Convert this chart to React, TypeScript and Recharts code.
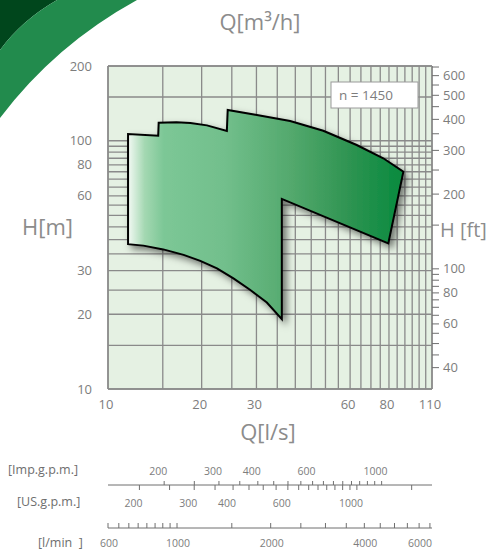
import React from "react";
import { ComposedChart, Scatter, XAxis, YAxis, CartesianGrid } from "recharts";

// outline of the operating field, traced clockwise from the lower left corner
const outlineQ = [11.6, 11.6, 14.5, 14.55, 16.6, 18.4, 20.8, 24.1, 24.25, 30.1, 38.5, 49.2, 63.0, 76.7, 89.0, 79.6, 36.2, 36.2, 32.4, 28.6, 25.3, 22.4, 19.8, 17.5, 15.05, 13.0]; // l/s
const outlineH = [38.3, 106.4, 104.8, 118.2, 118.7, 117.9, 115.3, 109.4, 133.0, 127.0, 120.1, 109.7, 96.1, 85.0, 75.0, 38.6, 58.3, 19.1, 22.3, 25.1, 27.9, 30.6, 32.8, 34.7, 36.5, 37.8]; // m

const qTicks = [10, 15, 20, 25, 30, 35, 40, 45, 50, 55, 60, 65, 70, 75, 80, 85, 90, 95, 100, 105, 110];
const qLabels = [10, 20, 30, 60, 80, 110];
const hTicks = [10, 15, 20, 25, 30, 35, 40, 45, 50, 55, 60, 65, 70, 75, 80, 85, 90, 95, 100, 150, 200];
const hLabels = [10, 20, 30, 60, 80, 100, 200];
const m3hTicks = [40, 45, 50, 55, 60, 65, 70, 75, 80, 85, 90, 95, 100, 150, 200, 250, 300, 350];
const m3hLabels = [40, 60, 80, 200, 300];
const ftTicks = [40, 45, 50, 55, 60, 65, 70, 75, 80, 85, 90, 95, 100, 150, 200, 250, 300, 350, 400, 450, 500, 550, 600, 650];
const ftLabels = [40, 60, 80, 100, 200, 300, 400, 500, 600];
const impTicks = [200, 250, 300, 350, 400, 450, 500, 550, 600, 650, 700, 750, 800, 850, 900, 950, 1000];
const impLabels = [200, 300, 400, 600, 1000];
const usTicks = [200, 250, 300, 350, 400, 450, 500, 550, 600, 650, 700, 750, 800, 850, 900, 950, 1000, 1500];
const usLabels = [200, 300, 400, 600, 1000];
const lminTicks = [600, 650, 700, 750, 800, 850, 900, 950, 1000, 1500, 2000, 2500, 3000, 3500, 4000, 4500, 5000, 5500, 6000, 6500];
const lminLabels = [600, 1000, 2000, 4000, 6000];

const qDomain = [10, 110]; // l/s
const hDomain = [10, 200]; // m
const M3H = 3.6;
const FT = 3.2808;
const IMP = 13.1982;
const USG = 15.8503;
const LMIN = 60;

// same field in the other flow units, so every flow scale has a series on it
const outline = outlineQ.map((q, i) => ({
  q,
  imp: q * IMP,
  us: q * USG,
  lmin: q * LMIN,
  h: outlineH[i],
}));

const FONT = "'Open Sans', 'DejaVu Sans', sans-serif";
const TXT = "#7d7d7d";
const GRID = "#8a8a8a";
const AXIS = "#6f6f6f";

const renderNothing = () => <g />;

const renderField = (props: any) => {
  const pts = (props.points || []) as { x: number; y: number }[];
  if (!pts.length) return <g />;
  const d = pts.map((p, i) => `${i ? "L" : "M"}${p.x},${p.y}`).join(" ") + " Z";
  return (
    <g>
      <defs>
        <linearGradient id="fieldFill" x1="0" y1="0" x2="1" y2="0">
          <stop offset="0" stopColor="#f3f9f4" />
          <stop offset="0.06" stopColor="#a4d8b2" />
          <stop offset="0.13" stopColor="#7cc796" />
          <stop offset="0.35" stopColor="#72bf8c" />
          <stop offset="0.6" stopColor="#52a86c" />
          <stop offset="0.8" stopColor="#2f9452" />
          <stop offset="1" stopColor="#078a3e" />
        </linearGradient>
        <filter id="fieldShadow" x="-10%" y="-10%" width="130%" height="130%">
          <feDropShadow dx="4" dy="4" stdDeviation="3.5" floodColor="#000" floodOpacity="0.5" />
        </filter>
      </defs>
      <path d={d} fill="url(#fieldFill)" stroke="#000" strokeWidth={2} filter="url(#fieldShadow)" />
    </g>
  );
};

const topTick = (p: any) =>
  m3hLabels.includes(p.payload.value) ? (
    <text x={p.x - 3} y={p.y - 3} textAnchor="middle" fontSize={13} fill={TXT} fontFamily={FONT}>
      {p.payload.value}
    </text>
  ) : (
    <g />
  );

const bottomTick = (p: any) =>
  qLabels.includes(p.payload.value) ? (
    <text x={p.x - 2} y={p.y + 20} textAnchor="middle" fontSize={13} fill={TXT} fontFamily={FONT}>
      {p.payload.value}
    </text>
  ) : (
    <g />
  );

const leftTick = (p: any) =>
  hLabels.includes(p.payload.value) ? (
    <text x={p.x - 16} y={p.y + 4.5} textAnchor="end" fontSize={13} fill={TXT} fontFamily={FONT}>
      {p.payload.value}
    </text>
  ) : (
    <g />
  );

const rightTick = (p: any) =>
  ftLabels.includes(p.payload.value) ? (
    <text x={p.x} y={p.y + 4.5} textAnchor="start" fontSize={13} fill={TXT} fontFamily={FONT}>
      {p.payload.value}
    </text>
  ) : (
    <g />
  );

const impTick = (p: any) => (
  <g>
    <line x1={p.x} x2={p.x} y1={p.y} y2={p.y - 4} stroke={AXIS} />
    {impLabels.includes(p.payload.value) ? (
      <text x={p.x - 6} y={p.y - 10} textAnchor="middle" fontSize={10.5} fill={TXT} fontFamily={FONT}>
        {p.payload.value}
      </text>
    ) : null}
  </g>
);

const usTick = (p: any) => (
  <g>
    <line x1={p.x} x2={p.x} y1={p.y - 1} y2={p.y + 4} stroke={AXIS} />
    {usLabels.includes(p.payload.value) ? (
      <text x={p.x - 6} y={p.y + 21} textAnchor="middle" fontSize={10.5} fill={TXT} fontFamily={FONT}>
        {p.payload.value}
      </text>
    ) : null}
  </g>
);

const lminTick = (p: any) => (
  <g>
    <line x1={p.x} x2={p.x} y1={p.y} y2={p.y - 5} stroke={AXIS} />
    {lminLabels.includes(p.payload.value) ? (
      <text x={p.x + 1} y={p.y + 19} textAnchor="middle" fontSize={10.5} fill={TXT} fontFamily={FONT}>
        {p.payload.value}
      </text>
    ) : null}
  </g>
);

const conv = (k: number) => [qDomain[0] * k, qDomain[1] * k];

export default function App() {
  return (
    <div style={{ position: "absolute", left: 0, top: 0, width: 491, height: 556, background: "#fff", fontFamily: FONT }}>
      <svg width={491} height={556} style={{ position: "absolute", left: 0, top: 0 }}>
        <path d="M0,0 L57,0 Q22,20 0,50 Z" fill="#00461c" />
        <path d="M57,0 L137,0 Q55,45 0,118 L0,50 Q22,20 57,0 Z" fill="#228b4d" />
      </svg>
      <div style={{ position: "absolute", left: 0, top: 0 }}>
        <ComposedChart width={491} height={556} margin={{ top: 0, right: 0, bottom: 0, left: 0 }}>
          <CartesianGrid xAxisId="a_ls" yAxisId="m" fill="#e5f1e3" fillOpacity={1} stroke={GRID} strokeWidth={1.3} />
          <XAxis
            xAxisId="m3h"
            orientation="top"
            type="number"
            scale="log"
            domain={conv(M3H)}
            allowDataOverflow
            ticks={m3hTicks}
            interval={0}
            height={66}
            tickSize={5}
            tickMargin={3}
            axisLine={{ stroke: GRID, strokeWidth: 1.5 }}
            tickLine={{ stroke: AXIS }}
            tick={topTick}
          />
          <XAxis
            xAxisId="a_ls"
            dataKey="q"
            orientation="bottom"
            type="number"
            scale="log"
            domain={qDomain}
            allowDataOverflow
            ticks={qTicks}
            interval={0}
            height={96}
            tickSize={0}
            tickMargin={0}
            tickLine={false}
            axisLine={{ stroke: GRID, strokeWidth: 1.5 }}
            tick={bottomTick}
          />
          <XAxis
            xAxisId="b_imp"
            dataKey="imp"
            orientation="bottom"
            type="number"
            scale="log"
            domain={conv(IMP)}
            allowDataOverflow
            ticks={impTicks}
            interval={0}
            height={1}
            tickSize={0}
            tickMargin={0}
            tickLine={false}
            axisLine={{ stroke: AXIS, strokeWidth: 1 }}
            tick={impTick}
          />
          <XAxis
            xAxisId="c_us"
            dataKey="us"
            orientation="bottom"
            type="number"
            scale="log"
            domain={conv(USG)}
            allowDataOverflow
            ticks={usTicks}
            interval={0}
            height={42}
            tickSize={0}
            tickMargin={0}
            tickLine={false}
            axisLine={false}
            tick={usTick}
          />
          <XAxis
            xAxisId="d_lmin"
            dataKey="lmin"
            orientation="bottom"
            type="number"
            scale="log"
            domain={conv(LMIN)}
            allowDataOverflow
            ticks={lminTicks}
            interval={0}
            height={28}
            tickSize={0}
            tickMargin={0}
            tickLine={false}
            axisLine={{ stroke: AXIS, strokeWidth: 1 }}
            tick={lminTick}
          />
          <YAxis
            yAxisId="m"
            dataKey="h"
            orientation="left"
            type="number"
            scale="log"
            domain={hDomain}
            allowDataOverflow
            ticks={hTicks}
            interval={0}
            width={108}
            tickSize={0}
            tickMargin={0}
            tickLine={false}
            axisLine={{ stroke: GRID, strokeWidth: 1.5 }}
            tick={leftTick}
          />
          <YAxis
            yAxisId="ft"
            orientation="right"
            type="number"
            scale="log"
            domain={[hDomain[0] * FT, hDomain[1] * FT]}
            allowDataOverflow
            ticks={ftTicks}
            interval={0}
            width={59}
            tickSize={7}
            tickMargin={4}
            tickLine={{ stroke: AXIS }}
            axisLine={{ stroke: GRID, strokeWidth: 1.5 }}
            tick={rightTick}
          />
          <Scatter data={outline} xAxisId="b_imp" yAxisId="m" shape={renderNothing} isAnimationActive={false} />
          <Scatter data={outline} xAxisId="c_us" yAxisId="m" shape={renderNothing} isAnimationActive={false} />
          <Scatter data={outline} xAxisId="d_lmin" yAxisId="m" shape={renderNothing} isAnimationActive={false} />
          <Scatter
            data={outline}
            xAxisId="a_ls"
            yAxisId="m"
            line={renderField}
            lineType="joint"
            shape={renderNothing}
            isAnimationActive={false}
          />
        </ComposedChart>
      </div>
      <svg width={491} height={556} style={{ position: "absolute", left: 0, top: 0, pointerEvents: "none" }} fontFamily={FONT}>
        <text x={260} y={30} textAnchor="middle" fontSize={22} fill="#8c8c8c">Q[m³/h]</text>
        <text x={22} y={235} fontSize={22} fill="#8c8c8c">H[m]</text>
        <text x={440} y={237} fontSize={20} fill="#8c8c8c">H [ft]</text>
        <text x={268} y={440} textAnchor="middle" fontSize={22} fill="#8c8c8c">Q[l/s]</text>
        <rect x={331} y={82} width={87} height={26} fill="#fff" stroke="#9a9a9a" strokeWidth={1} />
        <text x={339} y={100} fontSize={13.5} fill={TXT}>n = 1450</text>
        <text x={8} y={474} fontSize={12.5} fill="#6e6e6e">[Imp.g.p.m.]</text>
        <text x={17} y={506} fontSize={12.5} fill="#6e6e6e">[US.g.p.m.]</text>
        <text x={38} y={547} fontSize={12.5} fill="#6e6e6e" xmlSpace="preserve">[l/min  ]</text>
      </svg>
    </div>
  );
}
